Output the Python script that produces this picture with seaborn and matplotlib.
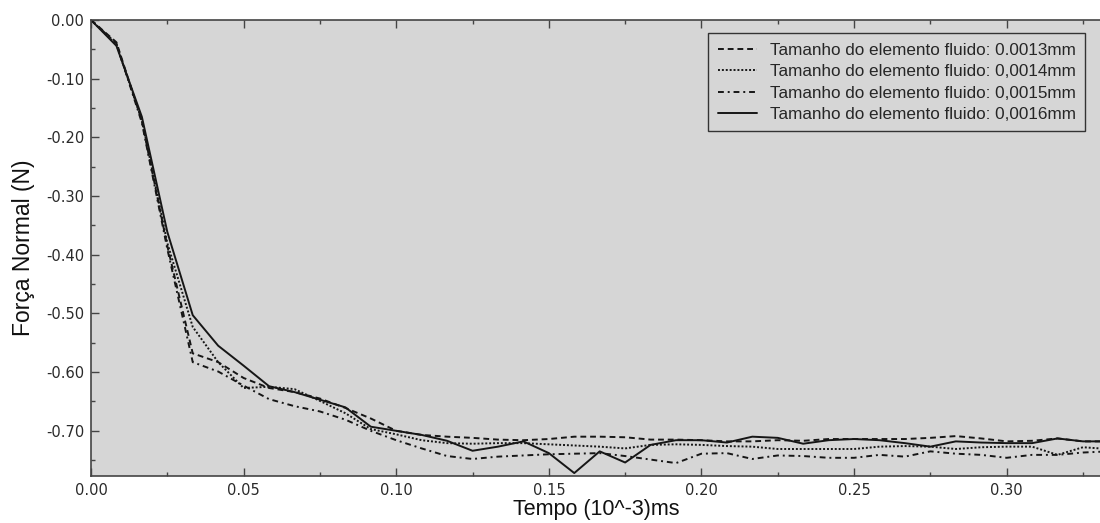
import numpy as np
import pandas as pd
import matplotlib
matplotlib.use("Agg")
import matplotlib.pyplot as plt
import seaborn as sns
from matplotlib.ticker import MultipleLocator, FormatStrFormatter

# Time samples (10^-3 ms), one every 1/120
tempo = [i / 120 for i in range(41)]

forca_0013 = [0.000, -0.038, -0.172, -0.385, -0.568, -0.583, -0.610, -0.627, -0.634, -0.645,
              -0.661, -0.679, -0.700, -0.707, -0.710, -0.712, -0.715, -0.716, -0.714, -0.710,
              -0.710, -0.711, -0.715, -0.715, -0.716, -0.718, -0.718, -0.716, -0.717, -0.714,
              -0.714, -0.714, -0.714, -0.712, -0.709, -0.713, -0.718, -0.717, -0.713, -0.718,
              -0.718]
forca_0014 = [0.000, -0.042, -0.170, -0.380, -0.523, -0.583, -0.627, -0.625, -0.629, -0.649,
              -0.670, -0.697, -0.706, -0.716, -0.721, -0.722, -0.721, -0.721, -0.723, -0.725,
              -0.727, -0.730, -0.724, -0.723, -0.724, -0.726, -0.727, -0.731, -0.731, -0.731,
              -0.731, -0.727, -0.726, -0.727, -0.731, -0.728, -0.727, -0.727, -0.741, -0.728,
              -0.731]
forca_0015 = [0.000, -0.040, -0.175, -0.390, -0.583, -0.599, -0.623, -0.646, -0.658, -0.667,
              -0.681, -0.700, -0.716, -0.730, -0.743, -0.748, -0.744, -0.742, -0.740, -0.739,
              -0.738, -0.743, -0.749, -0.755, -0.739, -0.738, -0.748, -0.742, -0.743, -0.746,
              -0.746, -0.741, -0.744, -0.735, -0.739, -0.741, -0.746, -0.741, -0.741, -0.737,
              -0.735]
forca_0016 = [0.000, -0.044, -0.165, -0.361, -0.503, -0.555, -0.589, -0.624, -0.634, -0.647,
              -0.660, -0.693, -0.700, -0.707, -0.717, -0.734, -0.727, -0.718, -0.738, -0.772,
              -0.735, -0.754, -0.724, -0.716, -0.716, -0.720, -0.710, -0.712, -0.722, -0.716,
              -0.714, -0.716, -0.721, -0.727, -0.718, -0.720, -0.721, -0.721, -0.713, -0.718,
              -0.718]

rotulos = ["Tamanho do elemento fluido: 0.0013mm",
           "Tamanho do elemento fluido: 0,0014mm",
           "Tamanho do elemento fluido: 0,0015mm",
           "Tamanho do elemento fluido: 0,0016mm"]

xticks = [0.00, 0.05, 0.10, 0.15, 0.20, 0.25, 0.30]
yticks = [0.00, -0.10, -0.20, -0.30, -0.40, -0.50, -0.60, -0.70]

df = pd.concat([
    pd.DataFrame({"tempo": tempo, "forca": serie, "malha": rot})
    for serie, rot in zip([forca_0013, forca_0014, forca_0015, forca_0016], rotulos)
], ignore_index=True)

sns.set_theme(style="ticks")
plt.rcParams["font.family"] = ["Liberation Sans", "DejaVu Sans"]
plt.rcParams["axes.unicode_minus"] = False

fig = plt.figure(figsize=(11, 5.23), dpi=100)
ax = fig.add_axes([91 / 1100, 1 - 476 / 523, 1.0 - 91 / 1100 + 0.002, (476 - 20) / 523])
ax.set_facecolor("#d6d6d6")

linha = "#161616"
estilos = {rotulos[0]: (3, 2), rotulos[1]: (1, 1), rotulos[2]: (3, 2, 1, 2), rotulos[3]: ""}
sns.lineplot(data=df, x="tempo", y="forca", style="malha", dashes=estilos,
             style_order=rotulos, color=linha, linewidth=1.4, ax=ax, legend=False)

ax.set_xlim(0, 0.3313)
ax.set_ylim(-0.777, 0)
ax.set_xticks(xticks)
ax.set_yticks(yticks)
ax.xaxis.set_major_formatter(FormatStrFormatter("%.2f"))
ax.yaxis.set_major_formatter(FormatStrFormatter("%.2f"))
ax.xaxis.set_minor_locator(MultipleLocator(0.025))
ax.yaxis.set_minor_locator(MultipleLocator(0.05))
ax.tick_params(which="both", direction="in", top=True, right=False, colors="#444444",
               labelcolor="#2a2a2a", width=1)
ax.tick_params(which="major", length=6, pad=5)
ax.tick_params(which="minor", length=3)
for lbl in ax.get_xticklabels() + ax.get_yticklabels():
    lbl.set_family(["DejaVu Sans"])
    lbl.set_fontsize(10.5)
for lado in ["left", "top", "bottom"]:
    ax.spines[lado].set_color("#444444")
    ax.spines[lado].set_linewidth(1.2)
ax.spines["right"].set_visible(False)

ax.set_xlabel("Tempo (10^-3)ms", fontsize=15.5, color="#111111", labelpad=1)
ax.set_ylabel("Força Normal (N)", fontsize=16.5, color="#111111", labelpad=8)

handles = [plt.Line2D([], [], color=linha, linewidth=1.4, dashes=estilos[r]) for r in rotulos[:3]]
handles.append(plt.Line2D([], [], color=linha, linewidth=1.4, linestyle="-"))
leg = ax.legend(handles, rotulos, loc="upper right", bbox_to_anchor=(0.983, 0.971),
                fontsize=12.3, frameon=True, fancybox=False, framealpha=1,
                facecolor="#d6d6d6", edgecolor="#333333", handlelength=2.3,
                handletextpad=0.75, borderpad=0.55, borderaxespad=0.0, labelspacing=0.38)
leg.get_frame().set_linewidth(1.0)

fig.savefig("out.png", dpi=100)
